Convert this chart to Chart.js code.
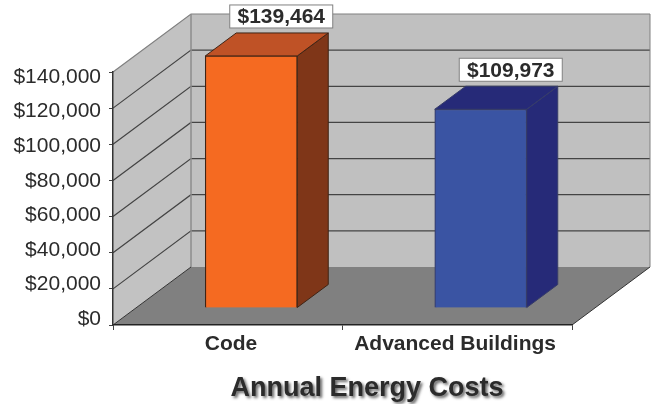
<!DOCTYPE html>
<html>
<head>
<meta charset="utf-8">
<style>
  html, body { margin: 0; padding: 0; background: #fff; }
  canvas { display: block; }
</style>
<script src="https://cdn.jsdelivr.net/npm/chart.js@4"></script>
</head>
<body>
<canvas id="costChart" width="652" height="404"></canvas>
<script>
const categories = ["Code", "Advanced Buildings"];
const costValues = [139464, 109973];
const tickValues = [0, 20000, 40000, 60000, 80000, 100000, 120000, 140000];
const chartTitle = "Annual Energy Costs";

const frontColors = ["#f56a21", "#3a54a3"];
const topColors = ["#bf5226", "#262a78"];
const sideColors = ["#7f3618", "#262a78"];
const edgeColors = ["#3f2415", "#363c68"];

const FONT = "'Liberation Sans', Arial, sans-serif";
const TEXT = "#2b2b2b";
const money = v => "$" + Number(v).toLocaleString("en-US");

// box depth of the plot and of the bars
const WALL_DX = 78, WALL_DY = 58;
const BAR_DX = 31, BAR_DY = 23;
// bars stand part way back on the floor
const SHIFT_X = 23.5, SHIFT_Y = -17;

function poly(ctx, pts, fill, stroke, lw) {
  ctx.beginPath();
  pts.forEach((p, i) => (i ? ctx.lineTo(p[0], p[1]) : ctx.moveTo(p[0], p[1])));
  ctx.closePath();
  if (fill) { ctx.fillStyle = fill; ctx.fill(); }
  if (stroke) { ctx.strokeStyle = stroke; ctx.lineWidth = lw || 1; ctx.stroke(); }
}

// Back wall, side wall, floor and the gridlines on them
const Walls = {
  id: "walls",
  beforeDraw(chart) {
    const { ctx, chartArea: a, scales } = chart;
    const y = scales.y;
    const y0 = y.getPixelForValue(0);
    const yTop = y.getPixelForValue(tickValues[tickValues.length - 1]);
    const bx = a.left + WALL_DX, brx = a.right + WALL_DX;

    ctx.save();
    poly(ctx, [[bx, yTop - WALL_DY], [brx, yTop - WALL_DY], [brx, y0 - WALL_DY], [bx, y0 - WALL_DY]], "#c0c0c0");
    poly(ctx, [[a.left, yTop], [bx, yTop - WALL_DY], [bx, y0 - WALL_DY], [a.left, y0]], "#c2c2c2");
    poly(ctx, [[a.left, y0], [bx, y0 - WALL_DY], [brx, y0 - WALL_DY], [a.right, y0]], "#808080");

    tickValues.forEach(v => {
      if (v === 0) return;
      const p = y.getPixelForValue(v);
      ctx.strokeStyle = v === 140000 ? "#808080" : "#444";
      ctx.lineWidth = 1.2;
      ctx.beginPath();
      ctx.moveTo(a.left, p);
      ctx.lineTo(bx, p - WALL_DY);
      ctx.lineTo(brx, p - WALL_DY);
      ctx.stroke();
    });

    ctx.strokeStyle = "#8c8c8c";
    ctx.lineWidth = 1.5;
    ctx.beginPath();
    ctx.moveTo(bx, yTop - WALL_DY);
    ctx.lineTo(bx, y0 - WALL_DY);
    ctx.stroke();

    ctx.strokeStyle = "#808080";
    ctx.lineWidth = 1;
    ctx.beginPath();
    ctx.moveTo(brx, yTop - WALL_DY);
    ctx.lineTo(brx, y0 - WALL_DY);
    ctx.stroke();

    ctx.strokeStyle = "#333";
    ctx.beginPath();
    ctx.moveTo(a.left, y0);
    ctx.lineTo(bx, y0 - WALL_DY);
    ctx.moveTo(a.right, y0);
    ctx.lineTo(brx, y0 - WALL_DY);
    ctx.stroke();
    ctx.restore();
  },
  afterDraw(chart) {
    const { ctx } = chart;
    ctx.save();
    ctx.font = "bold 27px " + FONT;
    ctx.textAlign = "center";
    ctx.textBaseline = "middle";
    ctx.fillStyle = "#2b2b2b";
    ctx.shadowColor = "rgba(0,0,0,0.6)";
    ctx.shadowOffsetX = 2;
    ctx.shadowOffsetY = 2;
    ctx.shadowBlur = 3;
    ctx.fillText(chartTitle, 367, 389);
    ctx.restore();
  }
};

// Moves the bars back onto the floor and adds their top and side faces
const Bars3D = {
  id: "bars3d",
  beforeDatasetsDraw(chart) {
    const { ctx } = chart;
    const meta = chart.getDatasetMeta(0);
    ctx.save();
    ctx.translate(SHIFT_X, SHIFT_Y);
    meta.data.forEach((bar, i) => {
      const l = bar.x - bar.width / 2, r = bar.x + bar.width / 2;
      poly(ctx, [[r, bar.y], [r + BAR_DX, bar.y - BAR_DY], [r + BAR_DX, bar.base - BAR_DY], [r, bar.base]], sideColors[i], edgeColors[i]);
      poly(ctx, [[l, bar.y], [l + BAR_DX, bar.y - BAR_DY], [r + BAR_DX, bar.y - BAR_DY], [r, bar.y]], topColors[i], edgeColors[i]);
    });
  },
  afterDatasetsDraw(chart) {
    const { ctx } = chart;
    ctx.restore();
    const meta = chart.getDatasetMeta(0);
    ctx.save();
    ctx.font = "bold 21px " + FONT;
    ctx.textAlign = "center";
    ctx.textBaseline = "middle";
    meta.data.forEach((bar, i) => {
      const cx = bar.x + SHIFT_X + BAR_DX - 1;
      const bottom = bar.y + SHIFT_Y - BAR_DY - 5;
      ctx.fillStyle = "#fff";
      ctx.strokeStyle = "#808080";
      ctx.lineWidth = 1;
      ctx.fillRect(cx - 51.5, bottom - 23, 103, 23);
      ctx.strokeRect(cx - 51.5, bottom - 23, 103, 23);
      ctx.fillStyle = TEXT;
      ctx.fillText(money(costValues[i]), cx, bottom - 10.5);
    });
    ctx.restore();
  }
};

new Chart(document.getElementById("costChart"), {
  type: "bar",
  data: {
    labels: categories,
    datasets: [{
      data: costValues,
      backgroundColor: frontColors,
      borderColor: edgeColors,
      borderWidth: 1.2,
      barThickness: 92,
      clip: false
    }]
  },
  options: {
    responsive: false,
    animation: false,
    events: [],
    layout: { padding: { top: 72, right: 80, left: 0, bottom: 0 } },
    plugins: { legend: { display: false }, tooltip: { enabled: false }, title: { display: false } },
    scales: {
      x: {
        weight: 0,
        grid: { drawOnChartArea: false, offset: true, tickLength: 5, color: "#444", tickColor: "#444" },
        border: { color: "#222", width: 1.5 },
        ticks: { display: false },
        afterFit: s => { s.height = 6; }
      },
      // tick labels sit a little off the bars in the picture, so they get their own axes
      xNames: {
        axis: "x",
        type: "linear",
        position: "bottom",
        weight: 1,
        offset: false,
        min: -0.527,
        max: 1.522,
        grid: { display: false, drawTicks: false },
        border: { display: false },
        afterBuildTicks: s => { s.ticks = categories.map((c, i) => ({ value: i })); },
        ticks: {
          callback: v => categories[v],
          font: { family: FONT, size: 21, weight: "bold" },
          color: TEXT,
          padding: 1,
          maxRotation: 0,
          autoSkip: false
        },
        afterFit: s => { s.height = 73; }
      },
      y: {
        min: 0,
        max: 140000,
        weight: 0,
        grid: { drawOnChartArea: false, tickLength: 4, color: "#444", tickColor: "#444" },
        border: { color: "#333", width: 1.5 },
        afterBuildTicks: s => { s.ticks = tickValues.map(v => ({ value: v })); },
        ticks: { display: false },
        afterFit: s => { s.width = 6; }
      },
      yNames: {
        axis: "y",
        type: "linear",
        position: "left",
        weight: 1,
        min: -3471,
        max: 142900,
        grid: { display: false, drawTicks: false },
        border: { display: false },
        afterBuildTicks: s => { s.ticks = tickValues.map(v => ({ value: v })); },
        ticks: {
          callback: money,
          font: { family: FONT, size: 21 },
          color: TEXT,
          padding: 6,
          autoSkip: false
        },
        afterFit: s => { s.width = 107; }
      }
    }
  },
  plugins: [Walls, Bars3D]
});
</script>
</body>
</html>
